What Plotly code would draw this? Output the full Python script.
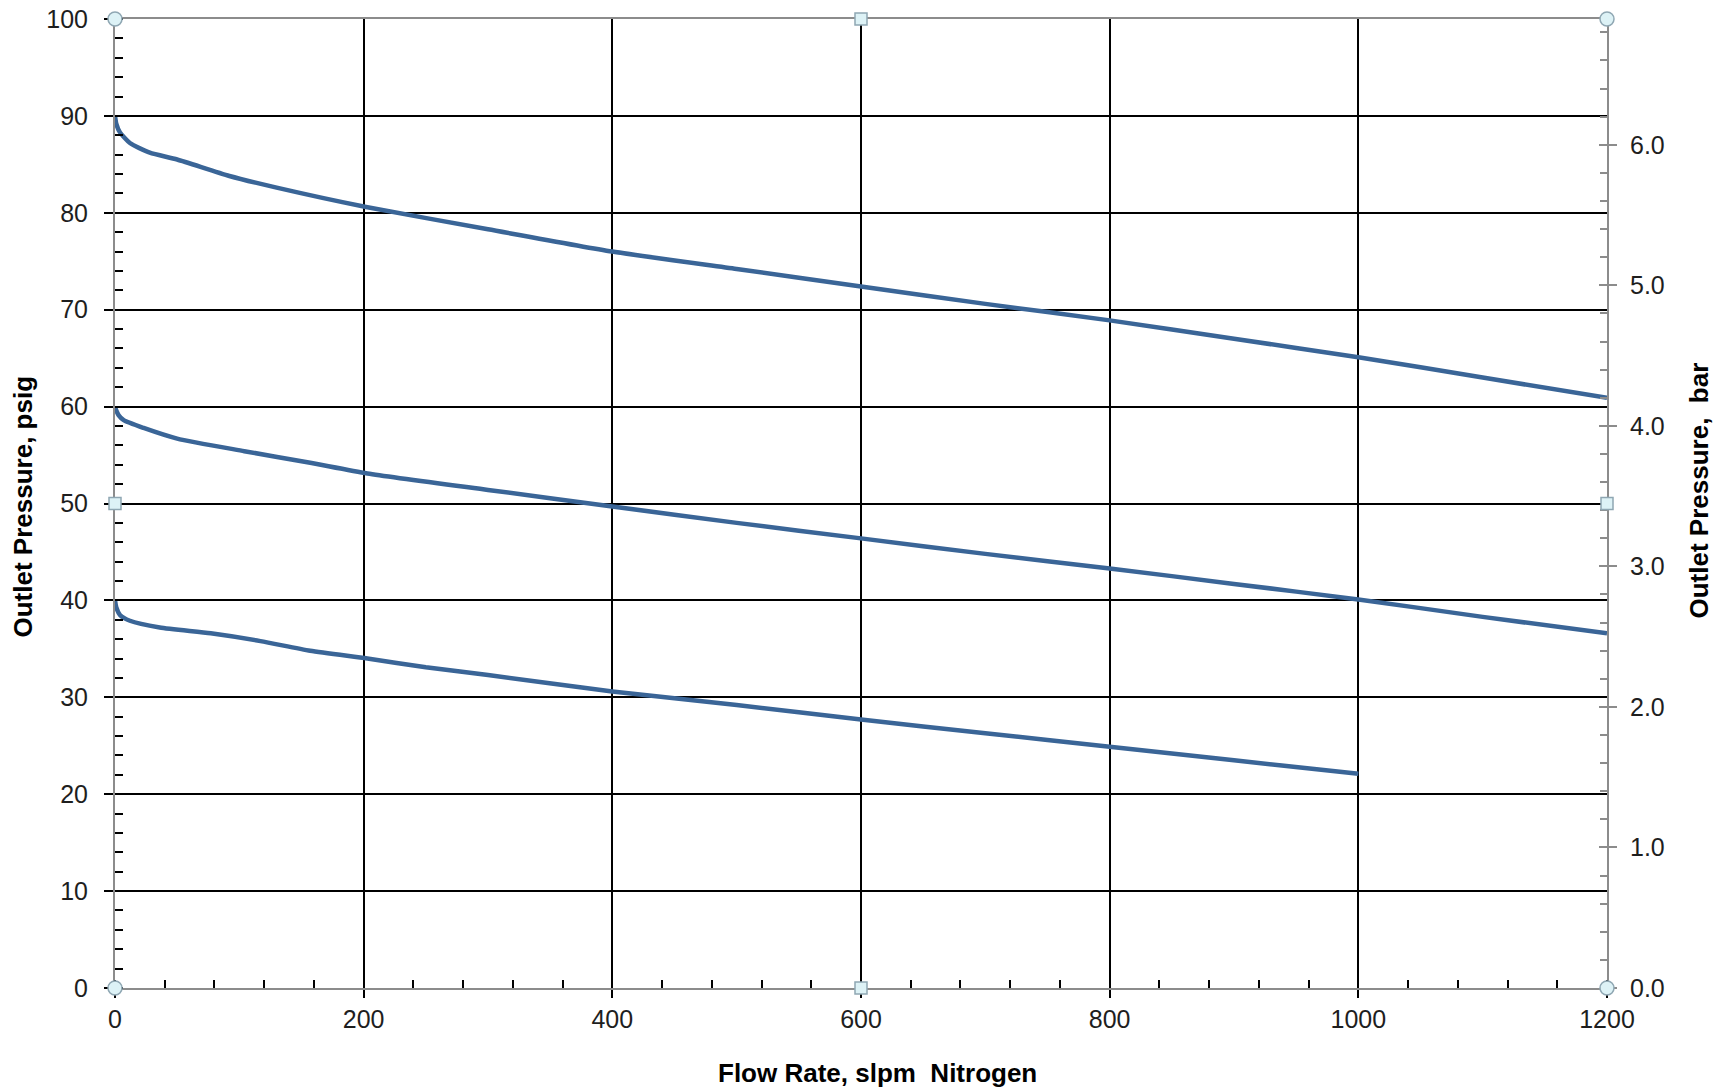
import plotly.graph_objects as go

# ---- data ----
flow_90 = [0, 1, 4, 12, 28, 50, 92, 130, 202, 300, 400, 500, 600, 700, 800, 900, 1000, 1100, 1200]
psi_90 = [90.0, 89.2, 88.3, 87.2, 86.2, 85.5, 83.8, 82.6, 80.6, 78.3, 76.0, 74.2, 72.4, 70.6, 68.9, 67.0, 65.1, 63.0, 60.9]

flow_60 = [0, 1, 3, 7, 23, 50, 104, 157, 203, 300, 400, 500, 600, 700, 800, 900, 1000, 1100, 1200]
psi_60 = [60.0, 59.6, 59.1, 58.6, 57.8, 56.7, 55.4, 54.2, 53.1, 51.4, 49.7, 48.0, 46.4, 44.8, 43.3, 41.7, 40.1, 38.3, 36.6]

flow_40 = [0, 1, 4, 12, 36, 77, 117, 157, 203, 250, 300, 400, 500, 600, 700, 800, 900, 1000]
psi_40 = [40.0, 39.3, 38.5, 37.9, 37.2, 36.6, 35.8, 34.8, 34.0, 33.1, 32.3, 30.6, 29.2, 27.7, 26.3, 24.9, 23.5, 22.1]

x_range = [0, 1200]
psi_range = [0, 100]
PSI_PER_BAR = 14.5038
bar_range = [psi_range[0] / PSI_PER_BAR, psi_range[1] / PSI_PER_BAR]

x_title = "Flow Rate, slpm  Nitrogen"
y_title = "Outlet Pressure, psig"
y2_title = "Outlet Pressure,  bar"

LINE = "#3A6597"
AX = "#8C8C8C"
FONT = "Liberation Sans, Arial, sans-serif"
TXT = "#1E1E1E"
TICK_SIZE = 25
TITLE_SIZE = 26

fig = go.Figure()
for fx, fy in [(flow_90, psi_90), (flow_60, psi_60), (flow_40, psi_40)]:
    fig.add_trace(go.Scatter(x=fx, y=fy, mode="lines",
                             line=dict(color=LINE, width=4.5, shape="spline", smoothing=0.6),
                             showlegend=False, hoverinfo="skip"))

fig.add_trace(go.Scatter(x=[None], y=[None], yaxis="y2", showlegend=False))
fig.add_trace(go.Scatter(x=[None], y=[None], yaxis="y3", showlegend=False))

fig.update_layout(
    width=1723, height=1090,
    margin=dict(l=115, r=116, t=19, b=102, autoexpand=False),
    paper_bgcolor="white", plot_bgcolor="white",
    font=dict(family=FONT, size=TICK_SIZE, color=TXT),
    xaxis=dict(range=x_range, dtick=200, showgrid=True, gridcolor="black", gridwidth=1.5,
               showline=True, linecolor=AX, linewidth=2, mirror=True, zeroline=False,
               ticks="outside", ticklen=8, tickcolor="black", tickwidth=1.5, automargin=False,
               ticklabeloverflow="allow",
               minor=dict(dtick=40, ticks="inside", ticklen=8, tickcolor="black", tickwidth=1.5, showgrid=False),
               tickfont=dict(size=TICK_SIZE, color=TXT), ticklabelstandoff=0),
    yaxis=dict(range=psi_range, dtick=10, showgrid=True, gridcolor="black", gridwidth=1.5,
               showline=True, linecolor=AX, linewidth=2, zeroline=False, automargin=False,
               ticks="outside", ticklen=9, tickcolor="black", tickwidth=1.5,
               ticklabeloverflow="allow",
               minor=dict(dtick=2, ticks="inside", ticklen=8, tickcolor="black", tickwidth=1.5, showgrid=False),
               tickfont=dict(size=TICK_SIZE, color=TXT), ticklabelstandoff=11),
    yaxis2=dict(range=bar_range, overlaying="y", side="right", dtick=1, tickformat=".1f",
                showgrid=False, zeroline=False, showline=True, linecolor=AX, linewidth=2,
                ticks="outside", ticklen=8, tickcolor=AX, tickwidth=1.5, automargin=False,
                ticklabeloverflow="allow",
                minor=dict(dtick=0.2, ticks="inside", ticklen=7, tickcolor=AX, tickwidth=1.5),
                tickfont=dict(size=TICK_SIZE, color=TXT), ticklabelstandoff=8),
    yaxis3=dict(range=bar_range, overlaying="y", side="right", dtick=1, showgrid=False,
                zeroline=False, showline=False, showticklabels=False, automargin=False,
                ticks="inside", ticklen=8, tickcolor=AX, tickwidth=1.5),
)

# titles
fig.add_annotation(text="<b>" + x_title + "</b>", xref="paper", yref="paper", x=0.5, y=0,
                   xshift=16, yshift=-85, showarrow=False, font=dict(size=TITLE_SIZE, color="black"),
                   yanchor="middle")
fig.add_annotation(text="<b>" + y_title + "</b>", xref="paper", yref="paper", x=0, y=0.5,
                   xshift=-93, yshift=-3, showarrow=False, textangle=-90,
                   font=dict(size=TITLE_SIZE, color="black"), xanchor="center")
fig.add_annotation(text="<b>" + y2_title + "</b>", xref="paper", yref="paper", x=1, y=0.5,
                   xshift=91, yshift=13, showarrow=False, textangle=-90,
                   font=dict(size=TITLE_SIZE, color="black"), xanchor="center")

# selection handles (Excel frame handles)
handles = [(0, 0, "circle"), (0, 1, "circle"), (1, 0, "circle"), (1, 1, "circle"),
           (0.5, 0, "rect"), (0.5, 1, "rect"), (0, 0.5, "rect"), (1, 0.5, "rect")]
for hx, hy, kind in handles:
    s = 7 if kind == "circle" else 6
    fig.add_shape(type=kind, xref="paper", yref="paper", xsizemode="pixel", ysizemode="pixel",
                  xanchor=hx, yanchor=hy, x0=-s, x1=s, y0=-s, y1=s,
                  fillcolor="#DDF2F6", line=dict(color="#8FA7B3", width=1.5), layer="above")

fig.write_html("out.html", config={"displayModeBar": False},
               post_script="document.body.style.margin='0';document.body.style.overflow='hidden';")
